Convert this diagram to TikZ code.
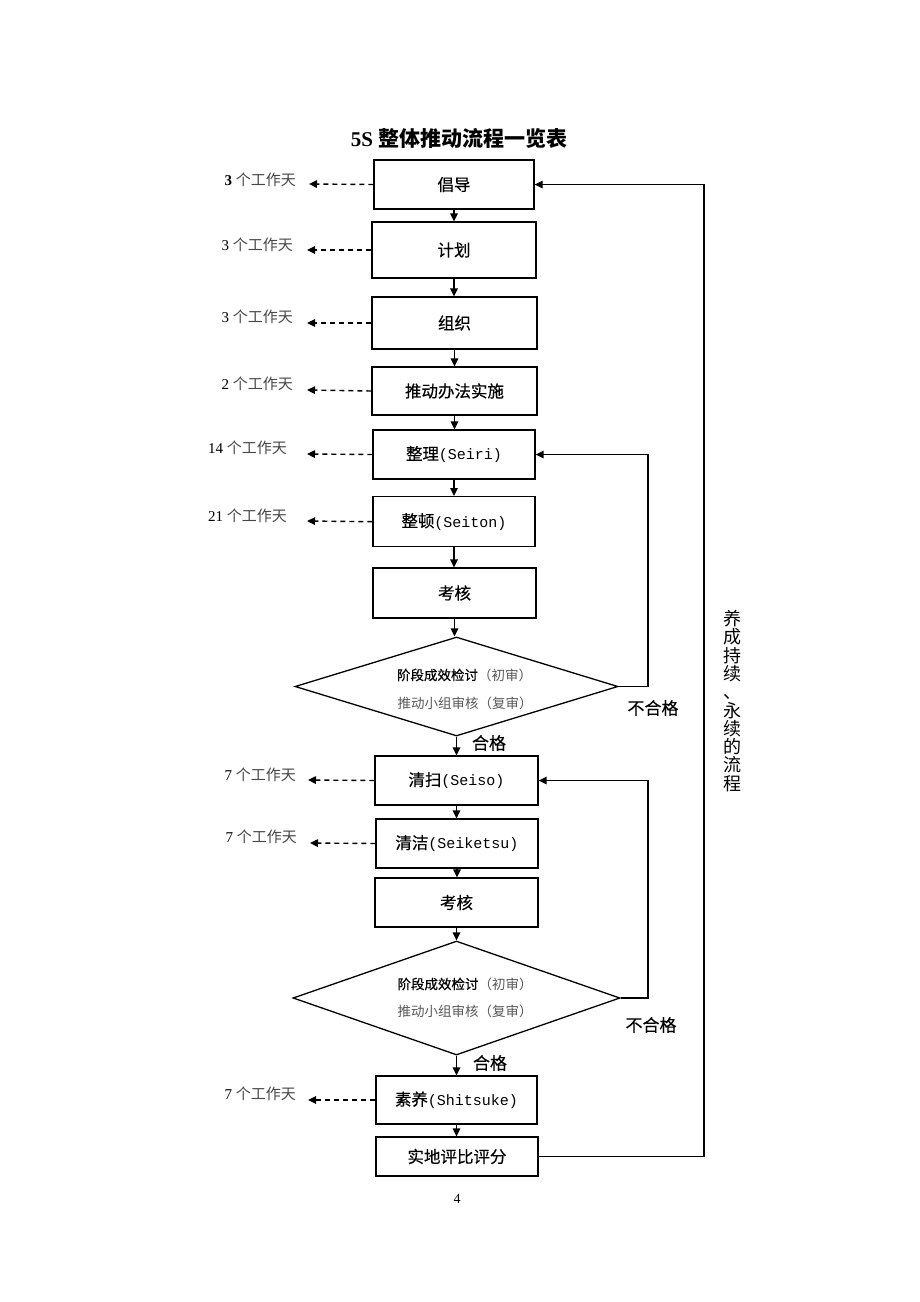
\documentclass[tikz,border=0pt]{standalone}
\usepackage{fontspec}
\setmainfont{Liberation Serif}
\newfontfamily\cjk{Noto Sans CJK SC}
\newfontfamily\cjkm[FakeBold=0.35]{Noto Sans CJK SC}
\newfontfamily\mono{Liberation Mono}
\usetikzlibrary{arrows.meta,shapes.geometric}
\newcommand{\en}[1]{{\mono\fontsize{15}{18}\selectfont #1}}
\newcommand{\lbl}[1]{#1 {\cjk\color{black!72}个工作天}}
\begin{document}
\begin{tikzpicture}[x=1pt,y=-1pt,
  box/.style={draw, line width=1.3pt, inner sep=0pt, font=\cjkm\fontsize{16.5}{18}\selectfont},
  dia/.style={draw, line width=1.3pt, diamond, inner sep=0pt, aspect=3.3},
  lab/.style={inner sep=0pt, anchor=east, font=\fontsize{15}{17}\selectfont},
  dtxt/.style={inner sep=0pt, font=\cjk\fontsize{13.5}{16}\selectfont},
  etxt/.style={inner sep=0pt, font=\cjkm\fontsize{17}{18}\selectfont},
  arr/.style={line width=1.4pt, -{Triangle[length=8pt,width=7.5pt]}},
  dsh/.style={arr, dash pattern=on 5pt off 4pt},
  ln/.style={line width=1.4pt}]
\useasboundingbox (0,0) rectangle (920,1302);
\fill[white] (0,0) rectangle (920,1302);

\node[inner sep=0pt] (title) at (459,139) {\fontsize{21}{24}\selectfont\bfseries 5S {\cjk\bfseries 整体推动流程一览表}};

\node[box, minimum width=160pt, minimum height=49pt] (n1) at (454,184.5) {倡导};
\node[box, minimum width=164pt, minimum height=56pt] (n2) at (454,250) {计划};
\node[box, minimum width=165pt, minimum height=52pt] (n3) at (454.5,323) {组织};
\node[box, minimum width=165pt, minimum height=48pt] (n4) at (454.5,391) {推动办法实施};
\node[box, minimum width=162pt, minimum height=49pt] (n5) at (454,454.5) {整理\en{(Seiri)}};
\node[box, minimum width=162pt, minimum height=50pt] (n6) at (454,521.7) {整顿\en{(Seiton)}};
\node[box, minimum width=163pt, minimum height=50pt] (n7) at (454.5,593) {考核};
\node[dia, minimum width=323pt, minimum height=99pt] (d1) at (456.5,686.5) {};
\node[box, minimum width=163pt, minimum height=49pt] (n8) at (456.5,780.5) {清扫\en{(Seiso)}};
\node[box, minimum width=162pt, minimum height=49pt] (n9) at (457,843.5) {清洁\en{(Seiketsu)}};
\node[box, minimum width=163pt, minimum height=49pt] (n10) at (456.5,902.5) {考核};
\node[dia, minimum width=327pt, minimum height=114pt] (d2) at (456.5,998) {};
\node[box, minimum width=161pt, minimum height=48pt] (n11) at (456.5,1100) {素养\en{(Shitsuke)}};
\node[box, minimum width=162pt, minimum height=39pt] (n12) at (457,1156.5) {实地评比评分};

% diamond texts
\node[dtxt] (d1a) at (464.5,675) {{\cjkm 阶段成效检讨}{\color{black!65}（初审）}};
\node[dtxt, text=black!65] (d1b) at (465,703) {推动小组审核（复审）};
\node[dtxt] (d2a) at (465,984) {{\cjkm 阶段成效检讨}{\color{black!65}（初审）}};
\node[dtxt, text=black!65] (d2b) at (465,1011) {推动小组审核（复审）};

% edge labels
\node[etxt] (ok1) at (489,743) {合格};
\node[etxt] (ng1) at (653,708) {不合格};
\node[etxt] (ok2) at (490,1063) {合格};
\node[etxt] (ng2) at (651,1025) {不合格};

% vertical text
\node[inner sep=0pt, align=center, font=\cjk\fontsize{18}{18.3}\selectfont] (vt) at (732,701) {养\\成\\持\\续\\、\\永\\续\\的\\流\\程};

% page number
\node[inner sep=0pt, font=\fontsize{14}{16}\selectfont] (pg) at (457,1199) {4};

% left labels
\node[lab] (l1) at (296,180) {\lbl{\textbf{3}}};
\node[lab] (l2) at (293,245) {\lbl{3}};
\node[lab] (l3) at (293,317) {\lbl{3}};
\node[lab] (l4) at (293,384) {\lbl{2}};
\node[lab] (l5) at (287,448) {\lbl{14}};
\node[lab] (l6) at (287,516) {\lbl{21}};
\node[lab] (l7) at (296,775) {\lbl{7}};
\node[lab] (l8) at (297,837) {\lbl{7}};
\node[lab] (l9) at (296,1094) {\lbl{7}};

\coordinate (t1) at (309,184);
\coordinate (t2) at (307,250);
\coordinate (t3) at (307,323);
\coordinate (t4) at (307,390);
\coordinate (t5) at (307,454);
\coordinate (t6) at (307,521);
\coordinate (t7) at (308,780);
\coordinate (t8) at (310,843);
\coordinate (t9) at (308,1100);
\draw[dsh] (n1.west) -- (t1);
\draw[dsh] (n2.west) -- (t2);
\draw[dsh] (n3.west) -- (t3);
\draw[dsh] (n4.west) -- (t4);
\draw[dsh] (n5.west) -- (t5);
\draw[dsh] (n6.west) -- (t6);
\draw[dsh] (n8.west) -- (t7);
\draw[dsh] (n9.west) -- (t8);
\draw[dsh] (n11.west) -- (t9);

% main flow
\draw[arr] (n1.south) -- (n1.south |- n2.north);
\draw[arr] (n2.south) -- (n2.south |- n3.north);
\draw[arr] (n3.south) -- (n3.south |- n4.north);
\draw[arr] (n4.south) -- (n4.south |- n5.north);
\draw[arr] (n5.south) -- (n5.south |- n6.north);
\draw[arr] (n6.south) -- (n6.south |- n7.north);
\draw[arr] (n7.south) -- (n7.south |- d1.north);
\draw[arr] (d1.south) -- (d1.south |- n8.north);
\draw[arr] (n8.south) -- (n8.south |- n9.north);
\draw[arr] (n9.south) -- (n9.south |- n10.north);
\draw[arr] (n10.south) -- (d2.north);
\draw[arr] (d2.south) -- (d2.south |- n11.north);
\draw[arr] (n11.south) -- (n11.south |- n12.north);

% feedback loops
\coordinate (f1) at (648,0);
\draw[arr] (d1.east) -- (f1 |- d1.east) -- (f1 |- n5.east) -- (n5.east);
\draw[arr] (d2.east) -- (f1 |- d2.east) -- (f1 |- n8.east) -- (n8.east);
\coordinate (f2) at (704,0);
\draw[arr] (n12.east) -- (f2 |- n12.east) -- (f2 |- n1.east) -- (n1.east);
\end{tikzpicture}
\end{document}
